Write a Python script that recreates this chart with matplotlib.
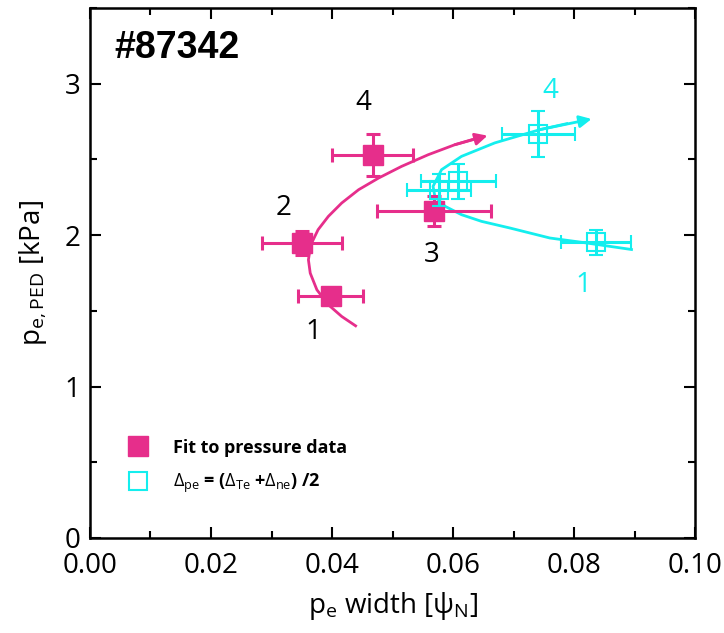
import matplotlib
matplotlib.use('Agg')
import matplotlib.pyplot as plt
from matplotlib.lines import Line2D
from matplotlib.ticker import MultipleLocator, FormatStrFormatter

plt.rcParams['font.family'] = ['Open Sans', 'DejaVu Sans']
plt.rcParams['mathtext.fontset'] = 'custom'
plt.rcParams['mathtext.rm'] = 'Open Sans'
plt.rcParams['mathtext.it'] = 'Open Sans'

PINK = '#E62E8B'
CYAN = '#14EEEE'

# fit to pressure data (filled squares)
fit_x = [0.0398, 0.0350, 0.0568, 0.0467]
fit_y = [1.595, 1.948, 2.161, 2.531]
fit_xerr = [0.0054, 0.0066, 0.0094, 0.0067]
fit_yerr = [0.05, 0.08, 0.10, 0.14]
fit_labels = ['1', '2', '3', '4']
fit_label_x = [0.0369, 0.0320, 0.0565, 0.0452]
fit_label_y = [1.36, 2.18, 1.87, 2.87]

# Delta_pe = (Delta_Te + Delta_ne)/2 (open squares)
avg_x = [0.0836, 0.0609, 0.0577, 0.0741]
avg_y = [1.952, 2.355, 2.300, 2.668]
avg_xerr = [0.0058, 0.0062, 0.0053, 0.0060]
avg_yerr = [0.08, 0.115, 0.105, 0.15]
avg_labels = ['1', '4']
avg_label_x = [0.0815, 0.0760]
avg_label_y = [1.67, 2.95]

# hand-drawn trend curves, last point is the arrow tip
fit_curve_x = [0.0439, 0.0416, 0.0394, 0.0375, 0.0364, 0.0361, 0.0365, 0.0377,
               0.0394, 0.0416, 0.0444, 0.0477, 0.0515, 0.0559, 0.0603, 0.0631,
               0.0657]
fit_curve_y = [1.401, 1.463, 1.540, 1.639, 1.749, 1.837, 1.937, 2.036,
               2.124, 2.212, 2.300, 2.377, 2.454, 2.531, 2.597, 2.630,
               2.657]
avg_curve_x = [0.0895, 0.0821, 0.0760, 0.0694, 0.0647, 0.0614, 0.0587, 0.0570,
               0.0567, 0.0581, 0.0614, 0.0669, 0.0744, 0.0788, 0.0829]
avg_curve_y = [1.905, 1.948, 1.981, 2.047, 2.091, 2.135, 2.190, 2.256,
               2.322, 2.432, 2.520, 2.609, 2.697, 2.736, 2.767]

fig = plt.figure(figsize=(7.24, 6.33), dpi=100)
ax = fig.add_axes([0.1243, 0.1501, 0.8357, 0.8373])

# curves
for cx, cy, c in [(fit_curve_x, fit_curve_y, PINK), (avg_curve_x, avg_curve_y, CYAN)]:
    ax.plot(cx[:-1], cy[:-1], color=c, lw=2, zorder=2, solid_joinstyle='round')
    ax.annotate('', xy=(cx[-1], cy[-1]), xytext=(cx[-3], cy[-3]),
                arrowprops=dict(arrowstyle='-|>', color=c, lw=2,
                                mutation_scale=18, shrinkA=0, shrinkB=0),
                zorder=2)

# data
ax.errorbar(fit_x, fit_y, xerr=fit_xerr, yerr=fit_yerr, fmt='s', color=PINK,
            ms=14, mec=PINK, elinewidth=2.2, capsize=5, capthick=2.2, zorder=3)
ax.errorbar(avg_x, avg_y, xerr=avg_xerr, yerr=avg_yerr, fmt='s', color=CYAN,
            ms=13, mfc='none', mec=CYAN, mew=1.5, elinewidth=2.2, capsize=5,
            capthick=2.2, zorder=4)

for t, x, y in zip(fit_labels, fit_label_x, fit_label_y):
    ax.text(x, y, t, fontsize=20, color='black', ha='center', va='center')
for t, x, y in zip(avg_labels, avg_label_x, avg_label_y):
    ax.text(x, y, t, fontsize=20, color=CYAN, ha='center', va='center')

ax.text(0.04, 0.925, '#87342', transform=ax.transAxes, fontsize=27,
        fontweight='bold', family=['Liberation Sans Narrow', 'Liberation Sans'],
        ha='left', va='center')

handles = [
    Line2D([], [], ls='none', marker='s', ms=14, color=PINK, mec=PINK),
    Line2D([], [], ls='none', marker='s', ms=13, mfc='none', mec=CYAN, mew=1.5),
]
ax.legend(handles, ['Fit to pressure data',
                    r'$\Delta_{pe}$ = ($\Delta_{Te}$ +$\Delta_{ne}$) /2'],
          loc='lower left', bbox_to_anchor=(0.023, 0.05), frameon=False,
          prop={'weight': 'bold', 'size': 13}, handletextpad=0.9,
          labelspacing=0.85)

ax.set_xlim(0, 0.10)
ax.set_ylim(0, 3.5)
ax.xaxis.set_major_locator(MultipleLocator(0.02))
ax.xaxis.set_minor_locator(MultipleLocator(0.01))
ax.yaxis.set_major_locator(MultipleLocator(1))
ax.yaxis.set_minor_locator(MultipleLocator(0.5))
ax.xaxis.set_major_formatter(FormatStrFormatter('%.2f'))
ax.yaxis.set_major_formatter(FormatStrFormatter('%d'))
ax.tick_params(which='both', direction='in', top=True, right=True,
               labelsize=20, width=1.5)
ax.tick_params(which='major', length=8)
ax.tick_params(which='minor', length=5)
ax.tick_params(axis='x', which='major', pad=10)
ax.tick_params(axis='y', which='major', pad=7)
for s in ax.spines.values():
    s.set_linewidth(1.8)

ax.set_xlabel(r'p$_\mathrm{e}$ width [$\psi_\mathrm{N}$]', fontsize=20, labelpad=7)
ax.set_ylabel(r'p$_\mathrm{e,PED}$ [kPa]', fontsize=20, labelpad=11)

fig.savefig('out.png', dpi=100)
